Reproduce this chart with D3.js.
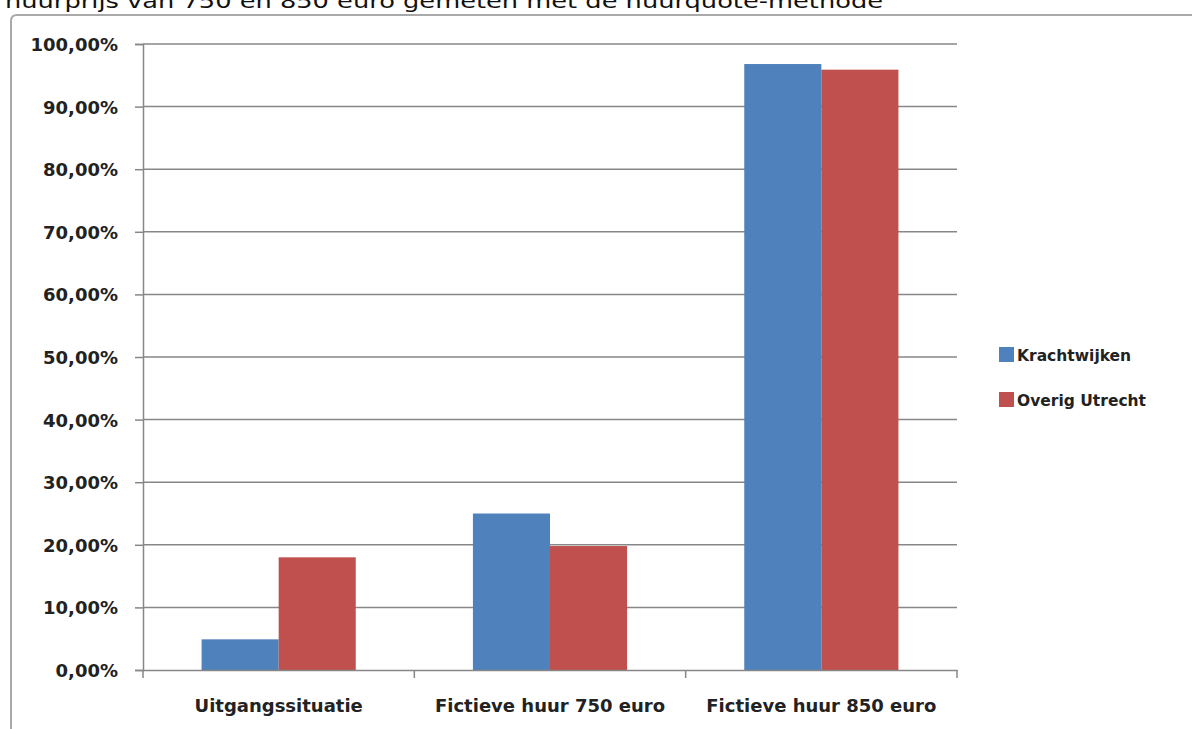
<!DOCTYPE html>
<html>
<head>
<meta charset="utf-8">
<script src="https://cdn.jsdelivr.net/npm/d3@7"></script>
<style>
  html, body { margin: 0; padding: 0; background: #fff; }
  svg { display: block; }
</style>
</head>
<body>
<svg id="chart" width="1192" height="729"></svg>
<script>
// Share of households per situation, in percent
const categories = ["Uitgangssituatie", "Fictieve huur 750 euro", "Fictieve huur 850 euro"];
const seriesNames = ["Krachtwijken", "Overig Utrecht"];
const krachtwijken = [4.9, 25.0, 96.8];
const overigUtrecht = [18.0, 19.8, 95.9];
const yTicks = [0, 10, 20, 30, 40, 50, 60, 70, 80, 90, 100];
const titleText = "huurprijs van 750 en 850 euro gemeten met de huurquote-methode";

const colors = { "Krachtwijken": "#4F81BD", "Overig Utrecht": "#C0504D" };
const seriesValues = { "Krachtwijken": krachtwijken, "Overig Utrecht": overigUtrecht };

const svg = d3.select("#chart");
const font = "'DejaVu Sans', sans-serif";

// Title line (partly cut off at the top edge)
svg.append("text")
  .attr("x", 5).attr("y", 8)
  .attr("font-family", font)
  .attr("font-size", 20)
  .attr("fill", "#111")
  .attr("textLength", 878)
  .attr("lengthAdjust", "spacingAndGlyphs")
  .text(titleText);

// Chart frame
svg.append("path")
  .attr("d", "M11,729 L11,21 Q11,15 17,15 L1192,15")
  .attr("fill", "none")
  .attr("stroke", "#a9a9a9")
  .attr("stroke-width", 2);

const plot = { left: 143, right: 957, top: 44, bottom: 670 };

const y = d3.scaleLinear().domain([0, 100]).range([plot.bottom, plot.top]);
const x0 = d3.scaleBand().domain(categories).range([plot.left, plot.right]).paddingInner(0).paddingOuter(0);
const x1 = d3.scaleBand().domain(seriesNames).range([0, x0.bandwidth()]).paddingInner(0).paddingOuter(0.76);

const fmt = v => d3.format(".2f")(v).replace(".", ",") + "%";

// Horizontal gridlines
svg.append("g")
  .selectAll("line")
  .data(yTicks.filter(t => t > 0))
  .join("line")
  .attr("x1", plot.left).attr("x2", plot.right)
  .attr("y1", d => y(d)).attr("y2", d => y(d))
  .attr("stroke", "#878787")
  .attr("stroke-width", 1.5);

// Bars
const groups = svg.append("g")
  .selectAll("g")
  .data(categories)
  .join("g")
  .attr("transform", d => `translate(${x0(d)},0)`);

groups.selectAll("rect")
  .data((c, i) => seriesNames.map(s => ({ series: s, value: seriesValues[s][i] })))
  .join("rect")
  .attr("x", d => x1(d.series))
  .attr("y", d => y(d.value))
  .attr("width", x1.bandwidth())
  .attr("height", d => y(0) - y(d.value))
  .attr("fill", d => colors[d.series]);

// Y axis
const yAxis = svg.append("g")
  .attr("transform", `translate(${plot.left},0)`)
  .call(d3.axisLeft(y).tickValues(yTicks).tickFormat(fmt).tickSize(8).tickPadding(17));
yAxis.select(".domain").attr("stroke", "#878787").attr("stroke-width", 1.5);
yAxis.selectAll(".tick line").attr("stroke", "#878787").attr("stroke-width", 1.5);
yAxis.selectAll(".tick text")
  .attr("font-family", font)
  .attr("font-size", 18)
  .attr("font-weight", "bold")
  .attr("fill", "#222")
  .attr("dy", "0.36em");

// X axis
const xAxis = svg.append("g")
  .attr("transform", `translate(0,${plot.bottom})`)
  .call(d3.axisBottom(x0).tickSize(0).tickPadding(29));
xAxis.select(".domain").attr("stroke", "#878787").attr("stroke-width", 1.5);
xAxis.selectAll(".tick text")
  .attr("font-family", font)
  .attr("font-size", 18)
  .attr("font-weight", "bold")
  .attr("fill", "#222");

// Category boundary ticks
const boundaries = categories.map(c => x0(c)).concat([x0.range()[1]]);
svg.append("g")
  .selectAll("line")
  .data(boundaries)
  .join("line")
  .attr("x1", d => d).attr("x2", d => d)
  .attr("y1", plot.bottom).attr("y2", plot.bottom + 8)
  .attr("stroke", "#878787")
  .attr("stroke-width", 1.5);

// Legend
const legend = svg.append("g")
  .selectAll("g")
  .data(seriesNames)
  .join("g")
  .attr("transform", (d, i) => `translate(999,${347 + i * 45})`);
legend.append("rect")
  .attr("width", 15).attr("height", 15)
  .attr("fill", d => colors[d]);
legend.append("text")
  .attr("x", 18).attr("y", 14)
  .attr("font-family", font)
  .attr("font-size", 15.5)
  .attr("font-weight", "bold")
  .attr("fill", "#222")
  .text(d => d);
</script>
</body>
</html>
